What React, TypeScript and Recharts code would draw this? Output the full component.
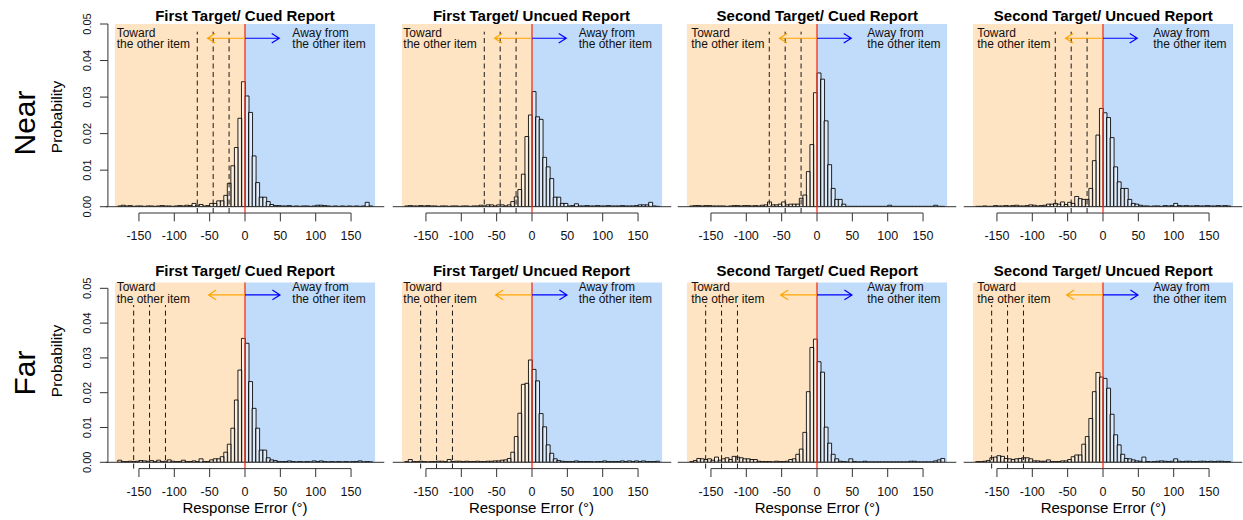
import React from 'react'
import {
  ComposedChart,
  Bar,
  XAxis,
  YAxis,
  ReferenceArea,
  ReferenceLine,
  ReferenceDot,
} from 'recharts'

// 5° bins from -180 to 180 (bin centres)
const BIN_CENTERS = Array.from({ length: 72 }, (_, i) => -177.5 + i * 5)

const X_TICKS = [-150, -100, -50, 0, 50, 100, 150]
const Y_TICKS = [0, 0.01, 0.02, 0.03, 0.04, 0.05]

const PANEL_TITLES = [
  'First Target/ Cued Report',
  'First Target/ Uncued Report',
  'Second Target/ Cued Report',
  'Second Target/ Uncued Report',
]
const ROW_LABELS = ['Near', 'Far']
const NEAR_GUIDES = [-67.5, -45, -22.5]
const FAR_GUIDES = [-157.5, -135, -112.5]

// probability per bin, rows of 12 bins: -180..-125, -120..-65, -60..-5, 0..55, 60..115, 120..175
const NEAR_FIRST_CUED = [
  0.0002, 0.0004, 0.0002, 0.0003, 0.0001, 0.0002, 0.0002, 0.0001, 0.0002, 0.0002, 0.0001, 0.0002,
  0.0003, 0.0002, 0.0002, 0.0001, 0.0002, 0.0003, 0.0002, 0.0004, 0.0003, 0.0009, 0.0004, 0.0006,
  0.0002, 0.0003, 0.0009, 0.0009, 0.0016, 0.0016, 0.0031, 0.0064, 0.0112, 0.0162, 0.0242, 0.0342,
  0.0303, 0.0258, 0.0139, 0.0066, 0.0026, 0.0026, 0.0014, 0.0006, 0.0003, 0.0003, 0.0002, 0.0002,
  0.0003, 0.0001, 0.0002, 0.0001, 0.0002, 0.0002, 0.0001, 0.0002, 0.0004, 0.0004, 0.0003, 0.0002,
  0.0001, 0.0002, 0.0001, 0.0002, 0.0001, 0.0002, 0.0001, 0.0002, 0.0001, 0.0002, 0.0012, 0.0002,
]
const NEAR_FIRST_UNCUED = [
  0.0002, 0.0003, 0.0002, 0.0002, 0.0003, 0.0002, 0.0003, 0.0002, 0.0002, 0.0001, 0.0002, 0.0002,
  0.0001, 0.0002, 0.0002, 0.0001, 0.0002, 0.0002, 0.0001, 0.0002, 0.0002, 0.0004, 0.0002, 0.0005,
  0.0005, 0.0002, 0.0005, 0.0005, 0.0002, 0.0005, 0.0014, 0.0027, 0.0047, 0.0089, 0.0192, 0.0251,
  0.0315, 0.0246, 0.0239, 0.0135, 0.0109, 0.0077, 0.0026, 0.0026, 0.0009, 0.0009, 0.0002, 0.0003,
  0.0008, 0.0002, 0.0002, 0.0003, 0.0002, 0.0002, 0.0003, 0.0002, 0.0002, 0.0003, 0.0002, 0.0002,
  0.0002, 0.0003, 0.0002, 0.0002, 0.0002, 0.0003, 0.0005, 0.0005, 0.0005, 0.0012, 0.0002, 0.0001,
]
const NEAR_SECOND_CUED = [
  0.0002, 0.0003, 0.0003, 0.0002, 0.0003, 0.0003, 0.0002, 0.0002, 0.0002, 0.0002, 0.0001, 0.0002,
  0.0003, 0.0003, 0.0002, 0.0003, 0.0003, 0.0002, 0.0003, 0.0002, 0.0004, 0.0005, 0.0013, 0.0005,
  0.0005, 0.0007, 0.0013, 0.0005, 0.0007, 0.0007, 0.0007, 0.0023, 0.0032, 0.0096, 0.017, 0.0312,
  0.0366, 0.0349, 0.0235, 0.0115, 0.005, 0.002, 0.002, 0.0007, 0.0001, 0.0001, 0.0001, 0.0001,
  0.0001, 0.0001, 0.0001, 0.0001, 0.0001, 0.0001, 0.0001, 0.0001, 0.0004, 0.0001, 0.0001, 0.0001,
  0.0001, 0.0001, 0.0001, 0.0001, 0.0001, 0.0001, 0.0001, 0.0001, 0.0001, 0.0004, 0.0001, 0.0001,
]
const NEAR_SECOND_UNCUED = [
  0.0001, 0.0001, 0.0002, 0.0001, 0.0001, 0.0003, 0.0002, 0.0002, 0.0003, 0.0002, 0.0003, 0.0004,
  0.0002, 0.0002, 0.0003, 0.0005, 0.0004, 0.0002, 0.0003, 0.0004, 0.0007, 0.0007, 0.0009, 0.0007,
  0.0013, 0.0006, 0.0012, 0.0009, 0.0028, 0.0022, 0.002, 0.002, 0.005, 0.0126, 0.0196, 0.0269,
  0.0257, 0.0244, 0.0189, 0.0109, 0.0068, 0.005, 0.005, 0.002, 0.0009, 0.0007, 0.0004, 0.0002,
  0.0002, 0.0001, 0.0002, 0.0002, 0.0001, 0.0003, 0.0002, 0.0003, 0.0009, 0.0003, 0.0002, 0.0003,
  0.0002, 0.0002, 0.0003, 0.0002, 0.0002, 0.0003, 0.0002, 0.0002, 0.0003, 0.0002, 0.0003, 0.0002,
]
const FAR_FIRST_CUED = [
  0.0006, 0.0002, 0.0002, 0.0003, 0.0002, 0.0003, 0.0005, 0.0004, 0.0003, 0.0005, 0.0002, 0.0006,
  0.0002, 0.0003, 0.0007, 0.0003, 0.0002, 0.0002, 0.0006, 0.0002, 0.0002, 0.0004, 0.0002, 0.001,
  0.0002, 0.0002, 0.0007, 0.001, 0.001, 0.0016, 0.0029, 0.0052, 0.0098, 0.0179, 0.0265, 0.0356,
  0.0342, 0.0232, 0.0155, 0.0098, 0.0035, 0.0035, 0.0013, 0.0007, 0.0005, 0.0002, 0.0002, 0.0002,
  0.0004, 0.0002, 0.0001, 0.0002, 0.0001, 0.0002, 0.0001, 0.0004, 0.0002, 0.0004, 0.0002, 0.0001,
  0.0002, 0.0001, 0.0002, 0.0001, 0.0002, 0.0001, 0.0002, 0.0002, 0.0004, 0.0001, 0.0002, 0.0001,
]
const FAR_FIRST_UNCUED = [
  0.0002, 0.0008, 0.0002, 0.0002, 0.0003, 0.0002, 0.0001, 0.0002, 0.0002, 0.0003, 0.0003, 0.0002,
  0.0008, 0.0002, 0.0003, 0.0003, 0.0002, 0.0003, 0.0002, 0.0002, 0.0003, 0.0002, 0.0002, 0.0003,
  0.0003, 0.0004, 0.0004, 0.0006, 0.0007, 0.0011, 0.0029, 0.0074, 0.0141, 0.0224, 0.0227, 0.0294,
  0.0267, 0.0234, 0.014, 0.0102, 0.005, 0.0026, 0.001, 0.0005, 0.0003, 0.0002, 0.0002, 0.0002,
  0.0004, 0.0002, 0.0002, 0.0002, 0.0002, 0.0001, 0.0002, 0.0002, 0.0004, 0.0002, 0.0002, 0.0002,
  0.0002, 0.0004, 0.0002, 0.0004, 0.0002, 0.0004, 0.0002, 0.0004, 0.0002, 0.0002, 0.0002, 0.0003,
]
const FAR_SECOND_CUED = [
  0.0002, 0.0005, 0.0011, 0.001, 0.0008, 0.001, 0.0006, 0.0015, 0.0006, 0.001, 0.0013, 0.0008,
  0.0017, 0.0015, 0.0013, 0.001, 0.001, 0.0008, 0.0008, 0.0003, 0.0002, 0.0002, 0.0002, 0.0001,
  0.0003, 0.0002, 0.0002, 0.0003, 0.0008, 0.001, 0.0023, 0.0038, 0.0086, 0.0203, 0.033, 0.0354,
  0.0289, 0.0259, 0.0101, 0.0055, 0.0023, 0.001, 0.0003, 0.0002, 0.0001, 0.001, 0.0002, 0.0001,
  0.0001, 0.0003, 0.0001, 0.0001, 0.0001, 0.0001, 0.0001, 0.0001, 0.0001, 0.0001, 0.0001, 0.0001,
  0.0001, 0.0001, 0.0003, 0.0003, 0.0001, 0.0001, 0.0001, 0.0001, 0.0001, 0.0004, 0.0007, 0.0011,
]
const FAR_SECOND_UNCUED = [
  0.0002, 0.0002, 0.0003, 0.0005, 0.0013, 0.0015, 0.0019, 0.0017, 0.0011, 0.001, 0.0008, 0.001,
  0.0011, 0.0013, 0.0013, 0.001, 0.0004, 0.0004, 0.0003, 0.0003, 0.0007, 0.0002, 0.0002, 0.0002,
  0.0004, 0.0004, 0.0008, 0.0016, 0.0021, 0.0021, 0.0052, 0.0074, 0.0126, 0.0203, 0.0258, 0.0245,
  0.0241, 0.0213, 0.0138, 0.0079, 0.005, 0.0023, 0.0011, 0.001, 0.0007, 0.0004, 0.0003, 0.0015,
  0.0002, 0.0001, 0.0002, 0.0003, 0.0004, 0.0003, 0.0002, 0.0003, 0.001, 0.0003, 0.0002, 0.0003,
  0.0003, 0.0002, 0.0002, 0.0003, 0.0003, 0.0002, 0.0003, 0.0002, 0.0003, 0.0003, 0.0002, 0.0002,
]

const HIST = [
  [NEAR_FIRST_CUED, NEAR_FIRST_UNCUED, NEAR_SECOND_CUED, NEAR_SECOND_UNCUED],
  [FAR_FIRST_CUED, FAR_FIRST_UNCUED, FAR_SECOND_CUED, FAR_SECOND_UNCUED],
]

// layout
const FONT = '"Liberation Sans", Arial, Helvetica, sans-serif'
const ZERO_X = [245, 531.5, 817.3, 1103.3]
const PX_PER_DEG = 0.707
const X_DOMAIN: [number, number] = [-184, 184]
const ROW_LAYOUT = [
  {
    top: 0, height: 255, plotTop: 24, plotBottom: 206.7, yMax: 0.05,
    titleY: 15, labelY: 123, probY: 117,
    guideTop: 0.0479, textY: 0.0477, arrowY: 0.0461, arrowTips: [-53, 48.5],
  },
  {
    top: 255, height: 265, plotTop: 282.4, plotBottom: 462.3, yMax: 0.0517,
    titleY: 270, labelY: 373, probY: 361,
    guideTop: 0.0452, textY: 0.0503, arrowY: 0.0481, arrowTips: [-51.5, 49.5],
  },
]
const TOWARD_X = [-181.5, -182, -178, -178]
const AWAY_X = [67, 66, 71, 71]

const XTick = (props: any) => {
  const { x, y, payload } = props
  return (
    <g>
      <line x1={x} x2={x} y1={y + 6.3} y2={y + 14.7} stroke="#333" />
      <text x={x} y={y + 33.3} textAnchor="middle" fontSize={12.5} fontFamily={FONT} fill="#111">
        {payload.value}
      </text>
    </g>
  )
}

const YTick = (props: any) => {
  const { x, y, payload } = props
  return (
    <g>
      <line x1={x - 7} x2={x - 15} y1={y} y2={y} stroke="#333" />
      <text
        transform={`translate(${x - 28},${y}) rotate(-90)`}
        textAnchor="middle"
        dominantBaseline="central"
        fontSize={11}
        fontFamily={FONT}
        fill="#111"
      >
        {payload.value.toFixed(2)}
      </text>
    </g>
  )
}

const arrowShape = (color: string) => (props: any) => {
  const { x1, y1, x2, y2 } = props
  const a = Math.atan2(y2 - y1, x2 - x1)
  const len = 9
  const s = 0.57
  const hx1 = x2 - len * Math.cos(a - s)
  const hy1 = y2 - len * Math.sin(a - s)
  const hx2 = x2 - len * Math.cos(a + s)
  const hy2 = y2 - len * Math.sin(a + s)
  return (
    <path
      d={`M${x1},${y1}L${x2},${y2}M${hx1},${hy1}L${x2},${y2}L${hx2},${hy2}`}
      stroke={color}
      strokeWidth={1.2}
      fill="none"
    />
  )
}

const twoLineLabel = (lines: string[]) => (props: any) => {
  const vb = props.viewBox || { x: props.x, y: props.y, width: 0, height: 0 }
  const x = vb.x + vb.width / 2
  const y = vb.y + vb.height / 2
  return (
    <text x={x} y={y} fontSize={12} fontFamily={FONT} fill="#111">
      {lines.map((l, i) => (
        <tspan key={i} x={x} dy={i === 0 ? '0.35em' : 11.7}>
          {l}
        </tspan>
      ))}
    </text>
  )
}

function Panel({ row, col }: { row: number; col: number }) {
  const lay = ROW_LAYOUT[row]
  const zx = ZERO_X[col]
  const plotLeft = zx + X_DOMAIN[0] * PX_PER_DEG
  const plotWidth = (X_DOMAIN[1] - X_DOMAIN[0]) * PX_PER_DEG
  const left = col === 0 ? 0 : zx - 143
  const width = zx + 143 - left
  const showY = col === 0
  const yAxisWidth = showY ? 30 : 0
  const xAxisHeight = 20
  const pxPerY = (lay.plotBottom - lay.plotTop) / lay.yMax
  const axisLineY = -6.3 / pxPerY
  const yAxisX = X_DOMAIN[0] - 7 / PX_PER_DEG
  const values = HIST[row][col]
  const data = BIN_CENTERS.map((x, i) => ({ x, p: values[i] }))
  const guides = row === 0 ? NEAR_GUIDES : FAR_GUIDES

  return (
    <div style={{ position: 'absolute', left, top: lay.top }}>
      <ComposedChart
        width={width}
        height={lay.height}
        data={data}
        barCategoryGap={0}
        barGap={0}
        margin={{
          top: lay.plotTop - lay.top,
          bottom: lay.top + lay.height - lay.plotBottom - xAxisHeight,
          left: plotLeft - left - yAxisWidth,
          right: zx + 143 - plotLeft - plotWidth,
        }}
      >
        <XAxis
          dataKey="x"
          type="number"
          domain={X_DOMAIN}
          ticks={X_TICKS}
          allowDataOverflow
          interval={0}
          axisLine={false}
          tickLine={false}
          tickSize={0}
          tickMargin={0}
          height={xAxisHeight}
          tick={<XTick />}
        />
        <YAxis
          type="number"
          domain={[0, lay.yMax]}
          ticks={Y_TICKS}
          allowDataOverflow
          hide={!showY}
          width={showY ? yAxisWidth : 60}
          interval={0}
          axisLine={false}
          tickLine={false}
          tickSize={0}
          tickMargin={0}
          tick={<YTick />}
        />
        <ReferenceArea x1={X_DOMAIN[0]} x2={0} y1={0} y2={lay.yMax} fill="#FEE4C3" fillOpacity={1} stroke="none" />
        <ReferenceArea x1={0} x2={X_DOMAIN[1]} y1={0} y2={lay.yMax} fill="#C1DCFB" fillOpacity={1} stroke="none" />
        {guides.map((g) => (
          <ReferenceLine
            key={g}
            segment={[{ x: g, y: axisLineY }, { x: g, y: lay.guideTop }]}
            stroke="#1a1a1a"
            strokeDasharray="5 3.5"
            ifOverflow="visible"
          />
        ))}
        <Bar
          dataKey="p"
          fill="#ffffff"
          fillOpacity={0.45}
          stroke="#000"
          strokeOpacity={0.85}
          strokeWidth={1}
          isAnimationActive={false}
        />
        <ReferenceLine segment={[{ x: -197, y: 0 }, { x: 197, y: 0 }]} stroke="#333" ifOverflow="visible" />
        <ReferenceLine
          segment={[{ x: X_TICKS[0], y: axisLineY }, { x: X_TICKS[X_TICKS.length - 1], y: axisLineY }]}
          stroke="#333"
          ifOverflow="visible"
        />
        {showY && (
          <ReferenceLine
            segment={[{ x: yAxisX, y: 0 }, { x: yAxisX, y: Y_TICKS[Y_TICKS.length - 1] }]}
            stroke="#333"
            ifOverflow="visible"
          />
        )}
        <ReferenceLine
          segment={[{ x: 0, y: axisLineY }, { x: 0, y: lay.yMax }]}
          stroke="#F0321E"
          strokeWidth={1.3}
          ifOverflow="visible"
        />
        <ReferenceLine
          segment={[{ x: 0, y: lay.arrowY }, { x: lay.arrowTips[0], y: lay.arrowY }]}
          shape={arrowShape('#FFA500')}
          ifOverflow="visible"
        />
        <ReferenceLine
          segment={[{ x: 0, y: lay.arrowY }, { x: lay.arrowTips[1], y: lay.arrowY }]}
          shape={arrowShape('#0000FF')}
          ifOverflow="visible"
        />
        <ReferenceDot
          x={TOWARD_X[col]}
          y={lay.textY}
          r={1}
          fill="none"
          stroke="none"
          ifOverflow="visible"
          label={twoLineLabel(['Toward', 'the other item'])}
        />
        <ReferenceDot
          x={AWAY_X[col]}
          y={lay.textY}
          r={1}
          fill="none"
          stroke="none"
          ifOverflow="visible"
          label={twoLineLabel(['Away from', 'the other item'])}
        />
      </ComposedChart>
    </div>
  )
}

const centered = (extra: React.CSSProperties): React.CSSProperties => ({
  position: 'absolute',
  fontFamily: FONT,
  whiteSpace: 'nowrap',
  lineHeight: 1,
  color: '#000',
  ...extra,
})

export default function App() {
  return (
    <div style={{ position: 'absolute', left: 0, top: 0, width: 1243, height: 520, background: '#fff' }}>
      <style>{'.recharts-surface{overflow:visible}'}</style>
      {ROW_LAYOUT.map((lay, row) => (
        <React.Fragment key={row}>
          <div
            style={centered({
              left: 25,
              top: lay.labelY,
              fontSize: 30,
              transform: 'translate(-50%, -50%) rotate(-90deg)',
            })}
          >
            {ROW_LABELS[row]}
          </div>
          <div
            style={centered({
              left: 57,
              top: lay.probY,
              fontSize: 15.5,
              transform: 'translate(-50%, -50%) rotate(-90deg)',
            })}
          >
            Probability
          </div>
          {PANEL_TITLES.map((t, col) => (
            <React.Fragment key={col}>
              <Panel row={row} col={col} />
              <div
                style={centered({
                  left: ZERO_X[col],
                  top: lay.titleY,
                  fontSize: 15,
                  fontWeight: 'bold',
                  transform: 'translate(-50%, -50%)',
                })}
              >
                {t}
              </div>
              {row === 1 && (
                <div
                  style={centered({
                    left: ZERO_X[col],
                    top: 506.5,
                    fontSize: 15,
                    transform: 'translate(-50%, -50%)',
                  })}
                >
                  Response Error (°)
                </div>
              )}
            </React.Fragment>
          ))}
        </React.Fragment>
      ))}
    </div>
  )
}
